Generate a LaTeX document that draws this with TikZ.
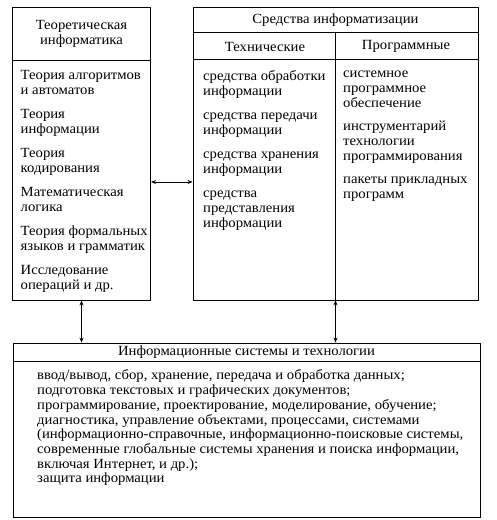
\documentclass[tikz,border=0pt]{standalone}
\usepackage{fontspec}
\setmainfont[FakeStretch=1.05]{Liberation Serif}
\usepackage{tikz}
\usetikzlibrary{arrows.meta}
\tikzset{every picture/.append style={font=\fontsize{14}{15}\selectfont}}
\tikzset{
  box/.style={draw,line width=0.9pt,inner sep=0pt},
  head/.style={align=center,inner sep=0pt},
  lst/.style={align=left,inner sep=0pt,anchor=north west,execute at begin node={\strut}},
  link/.style={{Stealth[length=5pt,width=4pt]}-{Stealth[length=5pt,width=4pt]},line width=0.7pt}
}

\begin{document}
\begin{tikzpicture}[x=1pt,y=1pt]
    \useasboundingbox (0,0) rectangle (496,-520);
    % boxes
    \node[box,minimum width=138,minimum height=293] (teor) at (81.5,-153.5) {};
    \node[box,minimum width=285,minimum height=293] (sred) at (335.5,-153.5) {};
    \node[box,minimum width=467,minimum height=174] (sist) at (246.5,-430) {};
    \draw[line width=0.9pt] ([yshift=-54]teor.north west) -- ([yshift=-54]teor.north east);
    \draw[line width=0.9pt] ([yshift=-26]sred.north west) -- ([yshift=-26]sred.north east);
    \draw[line width=0.9pt] ([yshift=-53]sred.north west) -- ([yshift=-53]sred.north east);
    \draw[line width=0.9pt] ([yshift=-26]sred.north) -- (sred.south);
    \draw[line width=0.9pt] ([yshift=-19]sist.north west) -- ([yshift=-19]sist.north east);
    % headings
    \node[head] (teorh) at (81.5,-34) {Теоретическая\\информатика};
    \node[head] (sredh) at (335.5,-20) {Средства информатизации};
    \node[head] (tehh) at (265,-46.5) {Технические};
    \node[head] (progh) at (406,-46.5) {Программные};
    \node[head] (sisth) at (246.5,-352.5) {Информационные системы и технологии};
    % lists
    \node[lst] (teorl) at (20.5,-70.5) {Теория алгоритмов\\и автоматов\\[9pt]
      Теория\\информации\\[9pt]Теория\\кодирования\\[9pt]
      Математическая\\логика\\[9pt]Теория формальных\\языков и грамматик\\[9pt]
      Исследование\\операций и др.};
    \node[lst] (tehl) at (203,-70.5) {средства обработки\\информации\\[9pt]
      средства передачи\\информации\\[9pt]средства хранения\\информации\\[9pt]
      средства\\представления\\информации};
    \node[lst] (progl) at (343,-70.5) {системное\\программное\\обеспечение\\[8pt]
      инструментарий\\технологии\\программирования\\[8pt]
      пакеты прикладных\\программ};
    \node[lst,font=\fontsize{14}{14.7}\selectfont] (sistl) at (37,-369.7) {ввод/вывод, сбор, хранение, передача и обработка данных;\\
      подготовка текстовых и графических документов;\\
      программирование, проектирование, моделирование, обучение;\\
      диагностика, управление объектами, процессами, системами\\
      (информационно-справочные, информационно-поисковые системы,\\
      современные глобальные системы хранения и поиска информации,\\
      включая Интернет, и др.);\\
      защита информации};
    % connectors
    \draw[link] ([yshift=-28.5]teor.east) -- ([yshift=-28.5]sred.west);
    \draw[link] (teor.south) -- (teor.south |- sist.north);
    \draw[link] (sred.south) -- (sred.south |- sist.north);
  \end{tikzpicture}
\end{document}
